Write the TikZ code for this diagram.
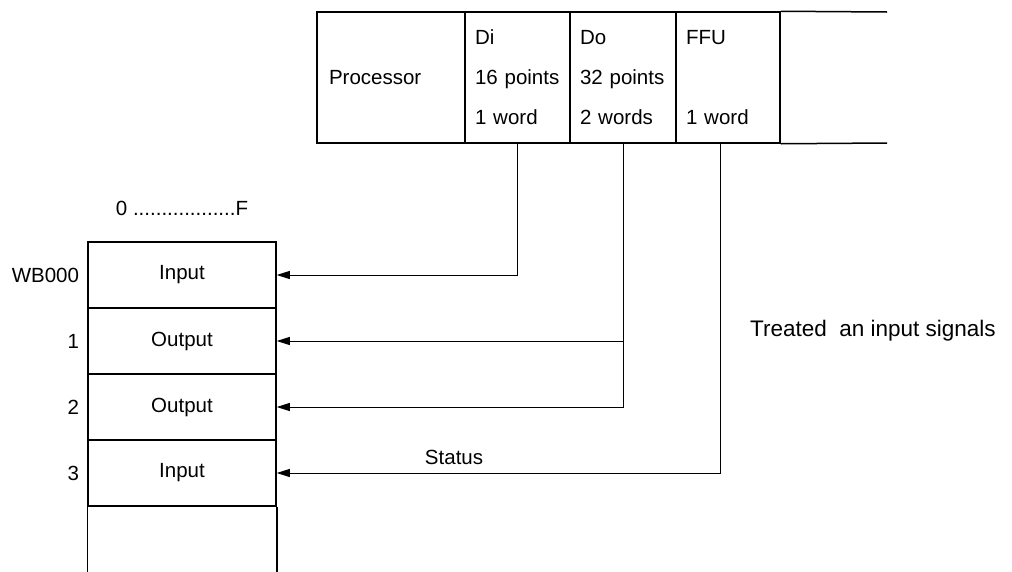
\documentclass[tikz,border=0pt]{standalone}
\usepackage{fontspec}
\setmainfont{Liberation Sans}
\usetikzlibrary{arrows.meta, positioning}

\begin{document}
\begin{tikzpicture}[
    x=1pt, y=-1pt,
    cell/.style={rectangle, draw, line width=1.5pt, minimum height=131pt, inner sep=0pt, align=left, font=\fontsize{20.5}{40}\selectfont},
    word/.style={rectangle, draw, line width=1.5pt, minimum width=188pt, minimum height=66pt, inner sep=0pt, font=\fontsize{20.5}{24}\selectfont},
    lbl/.style={font=\fontsize{20.5}{24}\selectfont, inner sep=0pt},
    sig/.style={-{Triangle[length=13pt, width=8pt]}, line width=0.9pt}
]
\useasboundingbox (0,0) rectangle (1012,571);
% module rack
\node[cell, minimum width=148pt, text width=124pt] (proc) at (391, 77.5) {Processor};
\node[cell, minimum width=105pt, text width=85pt] (di) at (517.5, 77.5) {Di\\16 points\\1 word};
\node[cell, minimum width=106pt, text width=86pt] (do) at (623, 77.5) {Do\\32 points\\2 words};
\node[cell, minimum width=104pt, text width=84pt] (ffu) at (728, 77.5) {FFU\\\mbox{}\\1 word};
\coordinate (endT) at (887, 12);
\coordinate (endB) at (887, 143);
\draw[line width=1.5pt] (ffu.north east) -- (endT);
\draw[line width=1.5pt] (ffu.south east) -- (endB);
% word table
\node[word] (w0) at (182, 275) {Input};
\node[word] (w1) at (182, 341) {Output};
\node[word] (w2) at (182, 407) {Output};
\node[word] (w3) at (182, 473) {Input};
\draw[line width=1.5pt] (w3.south west) -- ++(0, 65);
\draw[line width=1.5pt] (w3.south east) -- ++(0, 65);
\node[lbl, left=8pt of w0] (a0) {WB000};
\node[lbl, left=8pt of w1] (a1) {1};
\node[lbl, left=8pt of w2] (a2) {2};
\node[lbl, left=8pt of w3] (a3) {3};
\node[lbl, above=25pt of w0] (bits) {0 ..................F};
\node[lbl, anchor=west, font=\fontsize{22.5}{26}\selectfont] (note) at (750, 331) {Treated\ \ an input signals};
% signals
\draw[sig] (di.south) |- (w0.east);
\draw[sig] (do.south |- w1.east) -- (w1.east);
\draw[sig] (do.south) |- (w2.east);
\draw[sig] ([xshift=-8pt]ffu.south) |- node[lbl, pos=0.8, above=8pt] {Status} (w3.east);
\end{tikzpicture}
\end{document}
